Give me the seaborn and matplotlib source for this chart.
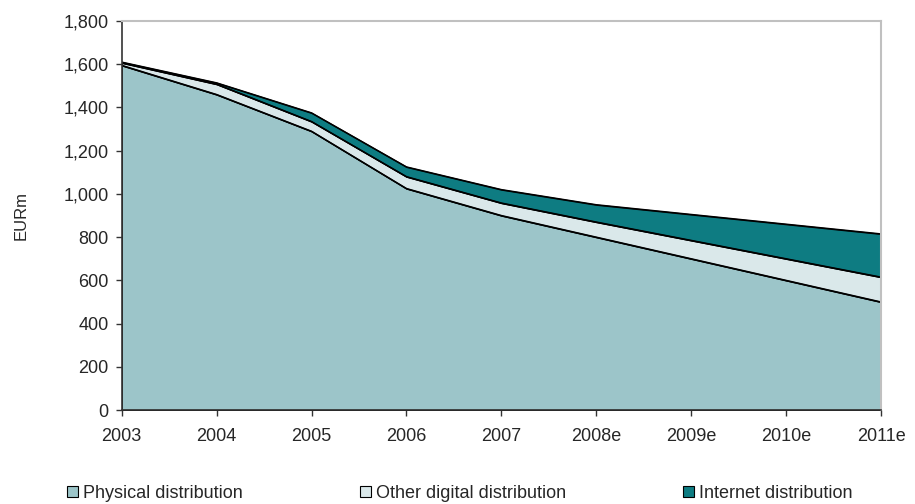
import matplotlib
matplotlib.use("Agg")
import matplotlib.pyplot as plt
from matplotlib.patches import Patch
from matplotlib.ticker import FuncFormatter
import numpy as np
import pandas as pd
import seaborn as sns

years = ["2003", "2004", "2005", "2006", "2007", "2008e", "2009e", "2010e", "2011e"]
physical = [1595, 1460, 1290, 1025, 900, 800, 700, 600, 500]
other_digital = [12, 48, 45, 55, 58, 70, 85, 100, 115]
internet = [3, 6, 40, 45, 62, 80, 120, 160, 200]

series_names = ["Physical distribution", "Other digital distribution", "Internet distribution"]
colors = ["#9cc5c9", "#dae8ea", "#0e7c82"]

df = pd.DataFrame({
    "year": years,
    series_names[0]: physical,
    series_names[1]: other_digital,
    series_names[2]: internet,
})
df["pos"] = np.arange(len(df))

sns.set_theme(style="white")
plt.rcParams["font.family"] = ["Liberation Sans", "DejaVu Sans"]

FS = 13

fig = plt.figure(figsize=(9.15, 5.04), dpi=100)
ax = fig.add_axes([0.1330, 0.1865, 0.8299, 0.7718])

ax.stackplot(df["pos"], df[series_names[0]], df[series_names[1]], df[series_names[2]],
             colors=colors, edgecolor="black", linewidth=1.0)

# outline each stacked boundary with seaborn lines
cum = df[series_names].cumsum(axis=1)
for name in series_names:
    sns.lineplot(x=df["pos"], y=cum[name], ax=ax, color="black", linewidth=1.0,
                 legend=False)

ax.set_xlim(0, len(years) - 1)
ax.set_ylim(0, 1800)
ax.set_xticks(df["pos"])
ax.set_xticklabels(years)
ax.set_yticks(np.arange(0, 1801, 200))
ax.yaxis.set_major_formatter(FuncFormatter(lambda v, p: f"{int(v):,}"))
ax.set_xlabel("")
ax.set_ylabel("EURm", fontsize=FS - 1)
ax.yaxis.set_label_coords(-0.123, 0.5)

ax.tick_params(axis="both", labelsize=FS, length=4.5, width=1, color="#333333",
               direction="out", bottom=True, left=True)
ax.tick_params(axis="x", pad=8.5)
ax.tick_params(axis="y", pad=5)

for side in ["left", "bottom"]:
    ax.spines[side].set_color("#333333")
    ax.spines[side].set_linewidth(1.2)
for side in ["top", "right"]:
    ax.spines[side].set_color("#c0c0c0")
    ax.spines[side].set_linewidth(1.5)

handles = [Patch(facecolor=c, edgecolor="black", linewidth=0.8) for c in colors]
fig.legend(handles, series_names, loc="lower left", bbox_to_anchor=(0.0736, 0.004),
           ncol=3, frameon=False, fontsize=FS, handlelength=0.61, handleheight=0.61,
           handletextpad=0.25, columnspacing=6.5, borderpad=0, borderaxespad=0)

fig.savefig("out.png", dpi=100)
